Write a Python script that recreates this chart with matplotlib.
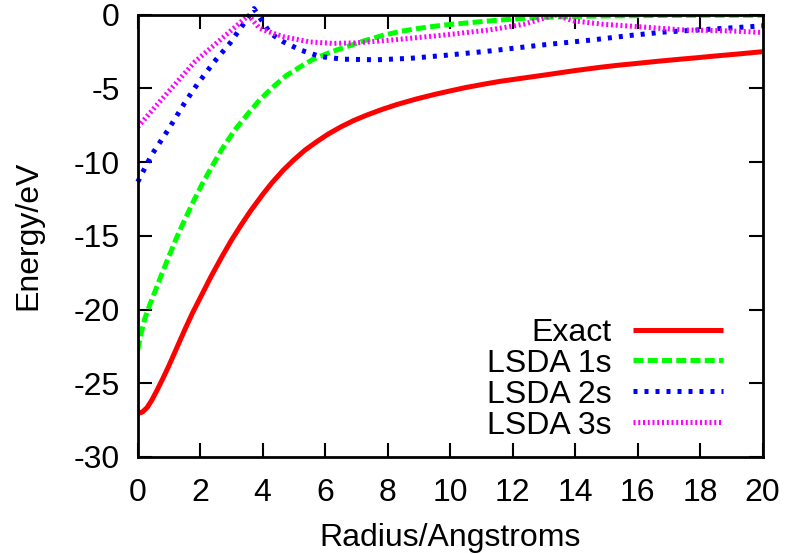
import matplotlib
matplotlib.use("Agg")
import matplotlib.pyplot as plt

plt.rcParams['font.family'] = ['Liberation Sans', 'DejaVu Sans']
plt.rcParams['axes.unicode_minus'] = False

# ---- data ----
r_exact = [0, 0.15, 0.3, 0.45, 0.6, 0.8, 1.0, 1.25, 1.5, 1.75, 2.05, 2.35, 2.7,
           3.0, 3.3, 3.6, 4.0, 4.3, 4.66, 5.0, 5.35, 5.73, 6.1, 6.5, 6.9, 7.33,
           7.8, 8.3, 8.93, 9.5, 10.0, 10.5, 11.06, 11.6, 12.2, 13.2, 14.0, 14.8,
           15.33, 16.0, 16.7, 17.36, 17.9, 18.5, 19.2, 20.0]
e_exact = [-27.05, -26.95, -26.65, -26.15, -25.55, -24.7, -23.8, -22.6, -21.4,
           -20.25, -19.0, -17.75, -16.4, -15.3, -14.3, -13.35, -12.2, -11.4,
           -10.55, -9.85, -9.2, -8.62, -8.1, -7.62, -7.2, -6.82, -6.45, -6.1,
           -5.72, -5.42, -5.18, -4.95, -4.73, -4.53, -4.35, -4.05, -3.8, -3.58,
           -3.45, -3.31, -3.16, -3.03, -2.93, -2.81, -2.68, -2.52]

r_1s = [0, 0.1, 0.23, 0.4, 0.55, 0.75, 0.98, 1.25, 1.51, 1.8, 2.05, 2.35, 2.69,
        3.1, 3.54, 3.9, 4.34, 4.75, 5.2, 5.6, 6.05, 6.4, 6.8, 7.3, 7.86, 8.4,
        8.93, 9.4, 9.89, 10.6, 11.28, 12.0, 12.88, 13.8, 14.8, 16.5, 18.0, 20.0]
e_1s = [-22.76, -21.7, -20.6, -19.6, -18.8, -17.7, -16.5, -15.1, -13.9, -12.6,
        -11.55, -10.4, -9.15, -7.85, -6.7, -5.8, -4.9, -4.15, -3.55, -3.05,
        -2.66, -2.38, -2.1, -1.75, -1.41, -1.15, -0.96, -0.82, -0.7, -0.56,
        -0.43, -0.31, -0.2, -0.14, -0.1, -0.07, -0.05, -0.05]

r_2s = [0, 0.45, 0.98, 1.5, 1.9, 2.45, 2.95, 3.4, 3.72, 4.24, 4.66, 5.2, 5.84,
        6.58, 7.65, 8.72, 9.78, 11.28, 12.88, 14.48, 15.85, 16.9, 17.97, 19.2,
        20.0]
e_2s = [-11.35, -9.5, -7.8, -6.0, -4.75, -3.2, -1.95, -0.6, 0.4, -1.27, -1.85,
        -2.4, -2.85, -3.03, -3.07, -2.97, -2.78, -2.47, -2.08, -1.74, -1.4,
        -1.18, -1.04, -0.88, -0.77]

r_3s = [0, 0.77, 1.83, 2.9, 3.55, 3.9, 4.3, 4.66, 5.51, 6.26, 7.0, 8.08, 9.78,
        11.28, 12.35, 13.36, 13.94, 14.9, 15.85, 17.45, 19.05, 20.0]
e_3s = [-7.63, -5.75, -3.2, -1.25, -0.05, -0.94, -1.25, -1.5, -1.86, -1.96,
        -1.92, -1.74, -1.40, -1.04, -0.66, -0.02, -0.43, -0.66, -0.8, -1.04,
        -1.12, -1.22]

labels = ["Exact", "LSDA 1s", "LSDA 2s", "LSDA 3s"]
x_ticks = list(range(0, 21, 2))
y_ticks = list(range(-30, 1, 5))

# ---- figure ----
fig = plt.figure(figsize=(7.87, 5.54), dpi=100)
ax = fig.add_axes([0.175, 0.1751, 0.9689 - 0.175, 0.9738 - 0.1751])

LW = 3.6
ax.plot(r_exact, e_exact, color='#ff0000', lw=LW, label=labels[0],
        solid_capstyle='butt')
ax.plot(r_1s, e_1s, color='#00ff00', lw=LW, label=labels[1],
        dashes=(2.0, 0.85))
ax.plot(r_2s, e_2s, color='#0000ff', lw=LW, label=labels[2],
        dashes=(0.8, 1.4), clip_on=False)
ax.plot(r_3s, e_3s, color='#ff00ff', lw=LW, label=labels[3],
        dashes=(0.4, 0.55))

ax.set_xlim(0, 20)
ax.set_ylim(-30, 0)
ax.set_xticks(x_ticks)
ax.set_yticks(y_ticks)

FS = 23
ax.tick_params(direction='in', length=10, width=1.5, top=True, right=True,
               labelsize=FS)
ax.tick_params(axis='y', pad=13)
ax.tick_params(axis='x', pad=15)
for s in ax.spines.values():
    s.set_linewidth(2.0)

ax.set_xlabel("Radius/Angstroms", fontsize=FS, va='center')
ax.xaxis.set_label_coords(0.5, -0.183)
ax.set_ylabel("Energy/eV", fontsize=FS, va='center')
ax.yaxis.set_label_coords(-0.1756, 0.5)

ax.legend(loc='center right', bbox_to_anchor=(0.937, 0.176), frameon=False,
          markerfirst=False, fontsize=FS, handlelength=2.82, handletextpad=0.66,
          labelspacing=0.03, borderpad=0, borderaxespad=0)

fig.savefig("out.png", dpi=100)
